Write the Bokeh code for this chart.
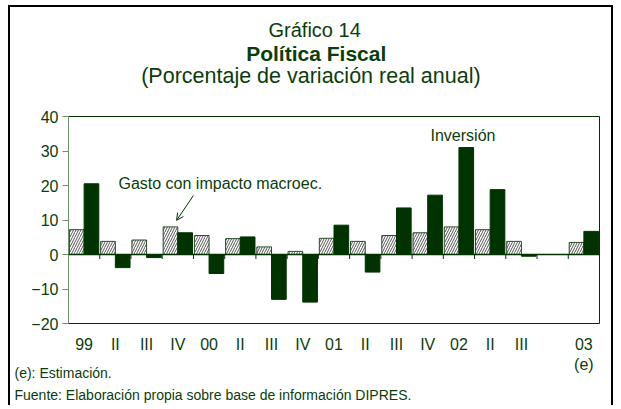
import math
from bokeh.plotting import figure
from bokeh.models import (Range1d, FixedTicker, Span, Label, Arrow, OpenHead,
                          Title, ColumnDataSource)
from bokeh.transform import dodge
from bokeh.embed import file_html
from bokeh.resources import INLINE

nan = float("nan")

# ---- data ----
categories = ["99", "II", "III", "IV", "00", "II", "III", "IV", "01", "II",
              "III", "IV", "02", "II", "III", "", "03\n(e)"]
gasto = [7.2, 3.8, 4.2, 8.0, 5.5, 4.6, 2.2, 0.9, 4.7, 3.8,
         5.5, 6.3, 8.0, 7.2, 3.8, nan, 3.5]
inversion = [20.5, -3.8, -0.9, 6.3, -5.5, 5.1, -13.0, -13.8, 8.5, -5.1,
             13.5, 17.2, 31.0, 18.8, -0.5, nan, 6.7]
y_ticks = [-20, -10, 0, 10, 20, 30, 40]

FONT = "Liberation Sans"
GREEN = "#003300"
TXT = "#0b3d0b"

n = len(categories)
xc = [i + 0.5 for i in range(n)]
src = ColumnDataSource(dict(xc=xc, gasto=gasto, inversion=inversion))

W, H = 605, 400
FL, FT, FB, FR = 58, 109, 316, 589
p = figure(width=W, height=H, x_range=Range1d(0, n), y_range=Range1d(-20, 40),
           output_backend="svg", toolbar_location=None,
           min_border_left=FL, min_border_right=W - FR, min_border_top=FT,
           min_border_bottom=H - FB)
p.styles = {"margin-left": "8px", "margin-top": "5px",
            "border-left": "2px solid black", "border-top": "2px solid black",
            "border-right": "2px solid black"}
p.background_fill_color = "white"
p.border_fill_color = "white"
p.outline_line_color = GREEN
p.outline_line_width = 1
p.xgrid.grid_line_color = None
p.ygrid.grid_line_color = None

p.vbar(x=dodge("xc", -0.235, range=p.x_range), top="gasto", bottom=0, width=0.47,
       source=src, fill_color="white", hatch_pattern="/", hatch_color="#555555",
       hatch_scale=5, hatch_weight=1, line_color="#2a4a2a", line_width=1)
p.vbar(x=dodge("xc", 0.235, range=p.x_range), top="inversion", bottom=0, width=0.47,
       source=src, fill_color=GREEN, line_color=GREEN, line_width=1)

p.add_layout(Span(location=0, dimension="width", line_color=GREEN, line_width=1.5))
bounds = list(range(1, n))
p.segment(x0=bounds, y0=[0] * len(bounds), x1=bounds, y1=[-1.3] * len(bounds),
          line_color=GREEN, line_width=1)

# y axis
p.yaxis.ticker = FixedTicker(ticks=y_ticks)
p.yaxis.major_label_text_font = FONT
p.yaxis.major_label_text_font_size = "16px"
p.yaxis.major_label_text_color = TXT
p.yaxis.axis_line_color = "#6f8f6f"
p.yaxis.major_tick_line_color = "#6f8f6f"
p.yaxis.major_tick_out = 6
p.yaxis.major_tick_in = 0
p.yaxis.minor_tick_line_color = None
p.yaxis.major_label_standoff = 4

# x axis
p.xaxis.ticker = FixedTicker(ticks=xc)
p.xaxis.major_label_overrides = {x: c for x, c in zip(xc, categories)}
p.xaxis.major_label_text_font = FONT
p.xaxis.major_label_text_font_size = "16px"
p.xaxis.major_label_text_color = TXT
p.xaxis.axis_line_color = None
p.xaxis.major_tick_line_color = None
p.xaxis.minor_tick_line_color = None
p.xaxis.major_tick_out = 0
p.xaxis.major_label_standoff = 12

# annotations
p.add_layout(Label(x=1.6, y=20.6, text="Gasto con impacto macroec.", text_font=FONT,
                   text_font_size="16px", text_color=TXT, text_baseline="middle"))
p.add_layout(Label(x=11.59, y=34.5, text="Inversión", text_font=FONT,
                   text_font_size="16px", text_color=TXT, text_baseline="middle"))
p.add_layout(Arrow(x_start=4.0, y_start=17.1, x_end=3.46, y_end=9.9,
                   line_color=GREEN, line_width=1,
                   end=OpenHead(size=7, line_color=GREEN, line_width=1)))

# titles: first added sits closest to the frame (spacer first)
p.add_layout(Title(text=" ", text_font_size="1px", standoff=26), "above")
for txt, size, style, so, off in [
        ("(Porcentaje de variación real anual)", "21.5px", "normal", 0, 72.7),
        ("Política Fiscal", "21px", "bold", -7, 177.7),
        ("Gráfico 14", "20px", "normal", 5.6, 200)]:
    p.add_layout(Title(text=txt, align="left", offset=off,
                       text_font=FONT, text_font_size=size, text_font_style=style,
                       text_color=TXT, standoff=so), "above")

p.add_layout(Title(text="(e): Estimación.\nFuente: Elaboración propia sobre base de información DIPRES.",
                   align="left", offset=14 - 68, text_font=FONT, text_font_size="14px",
                   text_font_style="normal", text_line_height=1.4,
                   text_color=TXT, standoff=-25), "below")

open("out.html", "w").write(file_html(p, INLINE))
